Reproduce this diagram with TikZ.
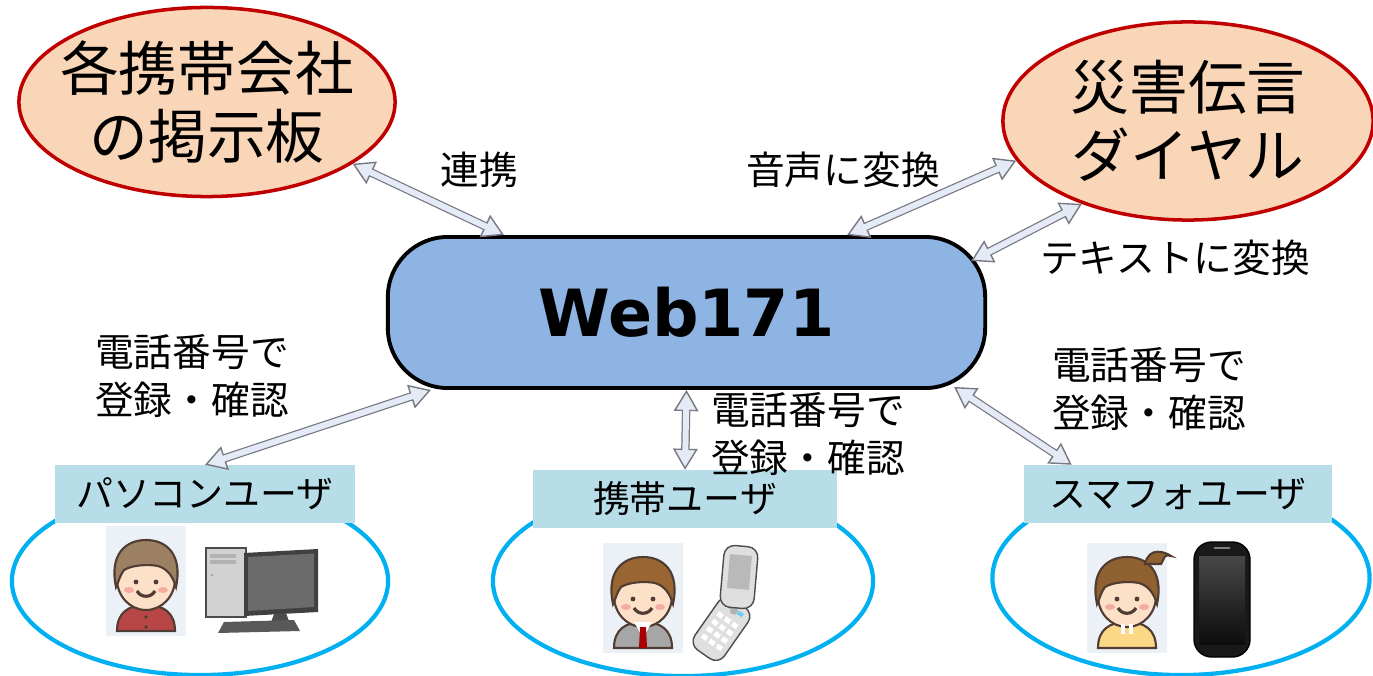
\documentclass[tikz,border=0pt]{standalone}
\usepackage{fontspec}
\setmainfont{Noto Sans CJK JP}
\newfontfamily\webfont{DejaVu Sans}
\usepackage{tikz}
\usetikzlibrary{arrows.meta,positioning,shapes.geometric}
\definecolor{wpeach}{RGB}{250,214,184}
\definecolor{wred}{RGB}{192,0,0}
\definecolor{wblue}{RGB}{142,180,227}
\definecolor{wcyan}{RGB}{0,176,240}
\definecolor{wtag}{RGB}{183,222,232}
\definecolor{warfill}{RGB}{228,234,246}
\definecolor{wgray}{RGB}{120,120,130}
\definecolor{wink}{RGB}{80,60,50}
\definecolor{wskin}{RGB}{252,224,200}
\definecolor{wcheek}{RGB}{245,172,160}
\definecolor{wbg}{RGB}{236,241,248}
\tikzset{
  bubble/.style={ellipse, draw=wred, line width=1pt, fill=wpeach,
                 inner xsep=-10pt, inner ysep=-6pt,
                 align=center, font=\fontsize{16.7}{19.5}\selectfont},
  hub/.style   ={rectangle, rounded corners=0.6cm, draw=black, line width=1.1pt,
                 fill=wblue, font=\webfont\bfseries\fontsize{18.5}{22}\selectfont},
  ring/.style  ={ellipse, draw=wcyan, line width=1.2pt, inner sep=0pt},
  tag/.style   ={rectangle, fill=wtag, inner sep=0pt, minimum height=0.57cm,
                 font=\fontsize{10.5}{12}\selectfont},
  note/.style  ={align=center, inner sep=0pt, font=\fontsize{11}{13.6}\selectfont},
  tipw/.tip    ={Triangle[length=6pt, width=7pt, fill=warfill, line width=0.4pt]},
  dbl/.style   ={draw=wgray, line width=2.4pt, tipw-tipw,
                 postaction={draw=warfill, line width=1.7pt, -,
                             shorten <=5.1pt, shorten >=5.1pt}},
  ink/.style   ={draw=wink, line width=0.6pt},
  % avatar: #1 hair, #2 clothes
  pics/user/.style 2 args={code={
    \fill[wbg] (-40,-55) rectangle (40,55);
    \draw[ink, fill=#2] (-29,50) .. controls (-29,32) and (-18,24) .. (0,24)
      .. controls (18,24) and (29,32) .. (29,50) -- cycle;
    \draw[ink, fill=wskin] (0,-2) ellipse (29 and 31);
    \draw[ink, fill=#1] (-30,6) .. controls (-37,-27) and (-20,-41) .. (0,-41)
      .. controls (20,-41) and (37,-27) .. (30,6)
      .. controls (27,-4) and (22,-12) .. (12,-15)
      .. controls (2,-17) and (-14,-16) .. (-22,-11)
      .. controls (-26,-6) and (-27,0) .. cycle;
    \fill[wcheek] (-17,9) ellipse (5 and 3) (17,9) ellipse (5 and 3);
    \fill[wink] (-10,1) circle (2.4) (10,1) circle (2.4);
    \draw[ink, line width=0.9pt] (-9,10) .. controls (-5,17) and (5,17) .. (9,10);
  }}
}

\begin{document}
\begin{tikzpicture}[x=0.01cm, y=-0.01cm]
\useasboundingbox (0,0) rectangle (1373,676);

% user groups
\node[ring, minimum width=3.76cm, minimum height=1.88cm] (pcring) at (200,581) {};
\node[ring, minimum width=3.80cm, minimum height=1.90cm] (mring) at (683,581) {};
\node[ring, minimum width=3.77cm, minimum height=1.94cm] (sring) at (1181,578) {};
\node[tag, minimum width=3.00cm] (pctag) at (205,494) {パソコンユーザ};
\node[tag, minimum width=3.04cm] (mtag) at (685,499) {携帯ユーザ};
\node[tag, minimum width=3.07cm] (stag) at (1178,494) {スマフォユーザ};

% PC user
\pic at (146,581) {user={brown!45!gray}{red!45!gray}};
\fill[wink] (146,617) circle (1.8) (146,627) circle (1.8);
\fill[gray!35] (206,548) rectangle (246,617);
\draw[gray!60!black, line width=0.5pt] (206,548) rectangle (246,617);
\draw[gray!60, line width=1pt] (210,556) -- (236,556) (210,562) -- (236,562);
\fill[gray!70] (212,575) circle (1.5);
\fill[black!75] (244,553) -- (318,549) -- (318,612) -- (244,616) -- cycle;
\fill[black!58] (248,557) -- (314,553.5) -- (314,607) -- (248,611) -- cycle;
\fill[black!70] (274,614) -- (286,613) -- (290,624) -- (270,625) -- cycle;
\fill[black!65] (224,622) -- (294,620) -- (300,631) -- (218,633) -- cycle;

% mobile user
\pic at (643,598) {user={brown!80!black}{gray!70}};
\fill[white] (634,622) -- (643,638) -- (652,622) -- cycle;
\fill[red!65!black] (640,627) -- (646,627) -- (647,648) -- (639,648) -- cycle;
\begin{scope}[shift={(722,628)}, rotate=-35]
  \draw[gray!60!black, fill=gray!25, rounded corners=3] (-18,-30) rectangle (18,32);
  \fill[wcyan!60] (-10,-24) rectangle (-4,-20) (4,-24) rectangle (10,-20);
  \fill[gray!60] (0,-21) circle (4);
  \foreach \i in {0,1,2}
    \foreach \j in {0,...,3}
      \fill[white] (-12+\i*9,-12+\j*9) rectangle ++(6,5);
\end{scope}
\begin{scope}[shift={(739,577)}, rotate=-5]
  \draw[gray!60!black, fill=gray!25, rounded corners=3] (-17,-31) rectangle (17,31);
  \fill[gray!55] (-11,-22) rectangle (11,12);
\end{scope}

% smartphone user
\pic at (1127,598) {user={brown!75!black}{yellow!35!orange!45}};
\draw[ink, fill=brown!75!black] (18,-34) ++(1127,598)
  .. controls ++(4,-18) and ++(-6,-4) .. ++(26,-8)
  .. controls ++(-8,-2) and ++(4,-6) .. ++(-10,8) -- cycle;
\draw[white, line width=1pt] (1123,624) -- (1123,634) (1131,624) -- (1131,634);
\draw[black, fill=black!90, rounded corners=5] (1194,542) rectangle (1250,657);
\shade[top color=black!72, bottom color=black!95] (1199,556) rectangle (1245,644);
\draw[gray, line width=0.8pt] (1214,548) -- (1230,548);

% services
\node[bubble, minimum width=3.76cm, minimum height=1.89cm] (board) at (207,102) {各携帯会社\\の掲示板};
\node[bubble, minimum width=3.70cm, minimum height=1.98cm] (dial) at (1188,121) {災害伝言\\ダイヤル};
\node[hub, minimum width=5.97cm, minimum height=1.51cm] (web) at (686.5,312.5) {Web171};

% links
\draw[dbl] (board.-23) -- ([shift={(118,0)}]web.north west);
\draw[dbl] ([shift={(-140,0)}]web.north east) -- (dial.193);
\draw[dbl] ([shift={(-16,26)}]web.north east) -- (dial.218);
\draw[dbl] ([shift={(45,0)}]web.south west) -- (pctag.north);
\draw[dbl] (web.south) -- (mtag.north);
\draw[dbl] ([shift={(-33,-3)}]web.south east) -- ([shift={(48,0)}]stag.north west);

\node[note] (lnk) at (479,170) {連携};
\node[note] (voice) at (843,170) {音声に変換};
\node[note] (totext) at (1175,258) {テキストに変換};
\node[note] (regpc) at (192,376) {電話番号で\\登録・確認};
\node[note] (regm) at (808,434) {電話番号で\\登録・確認};
\node[note] (regs) at (1149,389) {電話番号で\\登録・確認};
\end{tikzpicture}
\end{document}
